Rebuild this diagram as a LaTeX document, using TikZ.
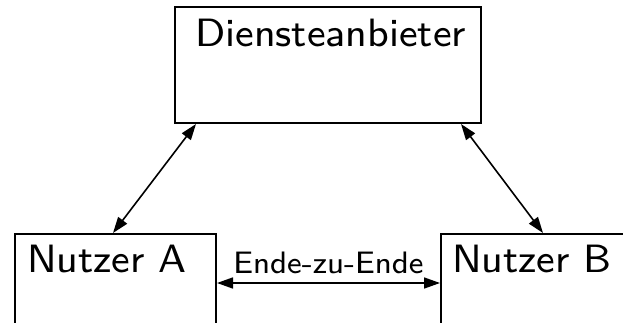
\documentclass[tikz,border=0pt]{standalone}
\usepackage{fontspec}
\newfontfamily\capsans{lmsans8-regular.otf}
\usetikzlibrary{arrows.meta}
\begin{document}
\begin{tikzpicture}[x=1pt,y=1pt,
  box/.style={draw, line width=2pt, rectangle, inner sep=0pt},
  boxtext/.style={anchor=base west, inner sep=0pt, font=\capsans\fontsize{39.5}{42}\selectfont},
  link/.style={line width=1.6pt, {Triangle[length=16pt,width=11pt]}-{Triangle[length=16pt,width=11pt]}},
  linklabel/.style={anchor=base, inner sep=0pt, font=\capsans\fontsize{31}{34}\selectfont}]
  \useasboundingbox (0,0) rectangle (623,322);
  \clip (0,0) rectangle (623,322);
  % boxes
  \node[box, minimum width=306pt, minimum height=116pt] (dienst) at (328,257) {};
  \node[box, minimum width=201pt, minimum height=93pt] (nutzerA) at (115.5,41.5) {};
  \node[box, minimum width=189pt, minimum height=93pt] (nutzerB) at (535.5,41.5) {};
  % box captions
  \node[boxtext] (tdienst) at (195,276) {Diensteanbieter};
  \node[boxtext] (tnutzerA) at (27,50) {Nutzer A};
  \node[boxtext] (tnutzerB) at (452,50) {Nutzer B};
  % connectors
  \draw[link] ([xshift=22pt]dienst.south west) -- ([xshift=-2.5pt]nutzerA.north);
  \draw[link] ([xshift=-21pt]dienst.south east) -- ([xshift=7.5pt]nutzerB.north);
  \draw[link] ([yshift=-2.5pt]nutzerA.east) -- ([yshift=-2.5pt]nutzerB.west)
    node[linklabel, pos=0.5, yshift=10pt] (e2e) {Ende-zu-Ende};
\end{tikzpicture}
\end{document}
